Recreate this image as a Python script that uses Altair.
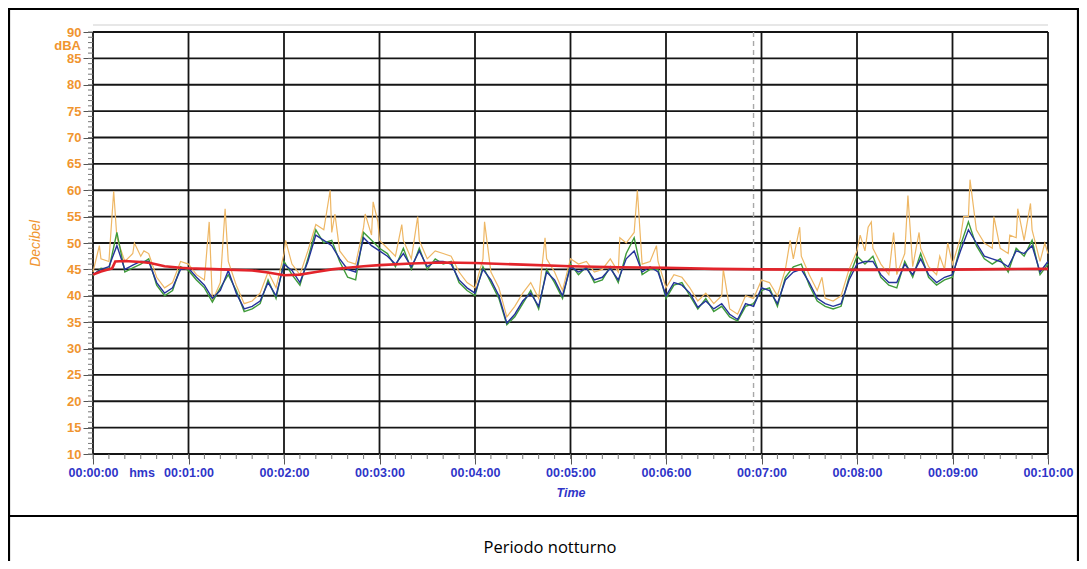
import altair as alt
import pandas as pd

# ---------------- data ----------------
times = list(range(0, 601, 5))  # seconds

blue = [
    44.0, 45.0, 45.5, 49.5, 45.0, 45.8, 46.5, 46.5, 42.5, 40.5,
    41.5, 45.0, 45.2, 43.5, 42.0, 39.5, 41.0, 44.8, 40.5, 37.5,
    38.0, 39.0, 42.5, 40.0, 46.0, 44.8, 42.5, 46.5, 51.5, 50.5,
    49.5, 47.0, 45.0, 44.5, 51.0, 49.5, 48.5, 47.5, 46.0, 48.0,
    45.5, 48.5, 45.5, 46.5, 46.5, 46.0, 43.0, 41.5, 40.5, 45.0,
    43.0, 40.0, 34.8, 36.5, 39.0, 40.5, 38.0, 44.5, 43.0, 40.0,
    45.5, 44.5, 45.2, 43.0, 43.5, 45.2, 43.0, 47.0, 48.5, 44.5,
    45.5, 44.5, 40.0, 42.5, 42.0, 40.5, 37.8, 39.0, 37.5, 38.5,
    36.5, 35.5, 38.5, 38.0, 41.5, 41.0, 38.5, 43.0, 44.5, 45.0,
    42.5, 39.5, 38.5, 38.0, 38.5, 43.0, 46.0, 46.5, 46.5, 44.0,
    42.5, 42.5, 46.0, 44.0, 47.0, 44.0, 42.5, 43.5, 44.0, 48.5,
    52.5, 50.0, 47.5, 47.0, 46.5, 45.5, 48.5, 48.0, 49.5, 44.5,
    46.5,
]

green = [
    43.8, 45.2, 45.0, 52.0, 44.5, 45.3, 46.0, 47.0, 42.0, 40.0,
    41.0, 45.5, 44.8, 43.0, 41.5, 38.8, 41.5, 44.0, 41.0, 37.0,
    37.5, 38.5, 43.0, 39.5, 46.5, 44.0, 42.0, 47.0, 52.5, 50.0,
    50.5, 46.5, 43.5, 43.0, 52.0, 50.5, 49.0, 48.0, 45.5, 49.0,
    45.0, 49.0, 45.0, 47.0, 46.0, 46.5, 42.5, 41.0, 40.0, 45.5,
    42.5, 39.5, 34.5, 36.0, 38.5, 41.0, 37.5, 45.0, 42.5, 39.5,
    46.0, 44.0, 45.5, 42.5, 43.0, 45.5, 42.5, 48.0, 51.0, 44.0,
    45.0, 45.0, 39.5, 42.0, 42.5, 40.0, 37.5, 39.5, 37.0, 38.0,
    36.0, 35.2, 38.0, 38.5, 41.0, 41.5, 38.0, 43.5, 45.5, 46.0,
    42.0, 39.0, 38.0, 37.5, 38.0, 43.5, 47.5, 46.0, 47.5, 43.5,
    42.0, 41.5, 46.5, 43.5, 48.0, 43.5, 42.0, 43.0, 43.5, 49.5,
    54.0, 49.5, 47.0, 46.0, 47.0, 44.5, 49.0, 47.5, 50.5, 44.0,
    46.0,
]

orange = [
    44.5, 47.0, 46.5, 51.0, 46.5, 48.0, 47.5, 48.0, 43.5, 41.5,
    42.5, 46.5, 46.0, 44.0, 43.0, 39.0, 42.5, 46.5, 42.0, 38.5,
    39.0, 40.5, 44.5, 41.5, 48.0, 46.0, 44.0, 48.5, 53.5, 52.5,
    52.0, 48.5, 46.5, 46.0, 53.0, 51.5, 50.5, 49.0, 47.5, 50.5,
    47.0, 50.5, 47.0, 48.5, 48.0, 47.5, 44.5, 42.5, 41.5, 47.0,
    44.5, 41.5, 36.0, 38.0, 40.5, 42.5, 39.5, 47.0, 44.5, 41.0,
    47.0, 46.0, 46.5, 44.5, 45.0, 47.0, 44.5, 50.0, 52.0, 46.0,
    46.5, 46.5, 41.5, 44.0, 43.5, 41.5, 39.0, 40.5, 38.5, 40.0,
    37.5, 36.5, 40.0, 39.5, 43.0, 42.5, 40.0, 45.0, 47.0, 47.5,
    44.0, 41.0, 39.5, 39.0, 40.0, 45.0, 48.5, 48.5, 49.0, 46.0,
    44.0, 44.0, 48.0, 45.5, 49.0, 45.5, 44.0, 45.0, 46.0, 51.0,
    55.0, 52.5, 50.0, 49.0, 49.0, 48.0, 51.0, 50.5, 52.5, 46.5,
    48.0,
]

orange_peak_t = [4, 13, 26, 32, 73, 83, 121, 149, 152, 171, 176, 179, 194,
                 204, 246, 284, 331, 342, 354, 396, 438, 444, 458, 482, 487,
                 489, 503, 512, 519, 532, 537, 547, 551, 566, 576, 581, 589, 598]
orange_peak_v = [49.5, 59.8, 50.0, 48.5, 54.0, 56.5, 50.5, 60.0, 55.5, 55.5,
                 57.8, 54.0, 53.5, 55.0, 54.0, 51.0, 51.0, 60.0, 49.5, 45.0,
                 50.5, 53.0, 43.5, 51.5, 53.0, 54.0, 52.0, 59.0, 52.0, 47.5,
                 50.0, 55.0, 62.0, 55.0, 51.5, 56.5, 57.5, 50.0]

red_t = [0, 5, 10, 12, 14, 20, 30, 36, 45, 55, 60, 80, 100, 110, 120, 130,
         140, 150, 160, 170, 180, 200, 220, 240, 270, 300, 330, 360, 390,
         420, 450, 480, 510, 540, 570, 600]
red_v = [44.0, 44.6, 45.0, 45.2, 46.5, 46.6, 46.4, 46.2, 45.6, 45.3, 45.2,
         45.0, 44.8, 44.4, 43.9, 44.0, 44.5, 45.0, 45.3, 45.6, 45.8, 46.1,
         46.3, 46.2, 45.9, 45.6, 45.4, 45.3, 45.1, 45.0, 44.95, 44.9, 44.9,
         44.95, 45.05, 45.1]

y_ticks = list(range(10, 91, 5))
y_minor = list(range(10, 91))
x_ticks = list(range(0, 601, 60))
x_minor = list(range(0, 601, 10))
x_labels = ["00:00:00", "00:01:00", "00:02:00", "00:03:00", "00:04:00",
            "00:05:00", "00:06:00", "00:07:00", "00:08:00", "00:09:00",
            "00:10:00"]
marker_t = [415]

# ---------------- styling ----------------
W, H = 955, 422
ORANGE_TXT = "#F0952F"
BLUE_TXT = "#2F35C8"
GRID = "#151515"

xs = alt.Scale(domain=[0, 600], nice=False, zero=False)
ys = alt.Scale(domain=[10, 90], nice=False, zero=False)

label_expr = "[" + ",".join("'%s'" % s for s in x_labels) + "][round(datum.value/60)]"

x_axis = alt.Axis(values=x_ticks, labelExpr=label_expr, grid=False, domain=False,
                  tickSize=10, tickColor="#555", tickWidth=1, labelPadding=2,
                  labelColor=BLUE_TXT, labelFont="Liberation Sans", labelFontSize=12.5,
                  labelFontWeight="bold", title="Time", titleColor=BLUE_TXT,
                  titleFont="Liberation Sans", titleFontSize=12.5, titleFontWeight="bold",
                  titleFontStyle="italic", titleX=W / 2, titleY=38,
                  titleBaseline="middle", titleAlign="center", labelFlush=False)

y_axis = alt.Axis(values=y_ticks, grid=False, domain=False, tickSize=10,
                  tickColor="#555", tickWidth=1, labelPadding=2,
                  labelColor=ORANGE_TXT, labelFont="Liberation Sans", labelFontSize=13,
                  labelFontWeight="bold", title="Decibel", titleColor=ORANGE_TXT,
                  titleFont="Liberation Sans", titleFontSize=14, titleFontWeight="normal",
                  titleFontStyle="italic", titleAngle=270, titleX=-58, titleY=211,
                  titleAlign="center", titleBaseline="middle", labelFlush=False)


def X(field):
    return alt.X(field, scale=xs, axis=x_axis)


def Y(field):
    return alt.Y(field, scale=ys, axis=y_axis)


# ---------------- frames ----------------
df_main = pd.DataFrame({"t": times, "blue": blue, "green": green})
df_orange = pd.DataFrame({"t": times + orange_peak_t, "v": orange + orange_peak_v}).sort_values("t")
df_red = pd.DataFrame({"t": red_t, "v": red_v})
one = pd.DataFrame({"a": [0]})

hgrid = alt.Chart(pd.DataFrame({"y": y_ticks})).mark_rule(color=GRID, strokeWidth=1.8).encode(
    y=Y("y:Q"))
vgrid = alt.Chart(pd.DataFrame({"t": x_ticks})).mark_rule(color=GRID, strokeWidth=1.8).encode(
    x=X("t:Q"))
yminor = alt.Chart(pd.DataFrame({"y": y_minor})).mark_rule(color="#777", strokeWidth=1).encode(
    y=Y("y:Q"), x=alt.value(-5), x2=alt.value(0))
xminor = alt.Chart(pd.DataFrame({"t": x_minor})).mark_rule(color="#777", strokeWidth=1).encode(
    x=X("t:Q"), y=alt.value(H), y2=alt.value(H + 5))
marker = alt.Chart(pd.DataFrame({"t": marker_t})).mark_rule(
    color="#a8a8a8", strokeWidth=1.4, strokeDash=[5, 4]).encode(x=X("t:Q"))

l_orange = alt.Chart(df_orange).mark_line(color="#EEB765", strokeWidth=1.2).encode(
    x=X("t:Q"), y=Y("v:Q"))
l_green = alt.Chart(df_main).mark_line(color="#3F9B3A", strokeWidth=1.4).encode(
    x=X("t:Q"), y=Y("green:Q"))
l_blue = alt.Chart(df_main).mark_line(color="#24339A", strokeWidth=1.4).encode(
    x=X("t:Q"), y=Y("blue:Q"))
l_red = alt.Chart(df_red).mark_line(color="#E3242B", strokeWidth=2.6).encode(
    x=X("t:Q"), y=Y("v:Q"))

# ---------------- decorations (table cell frame, caption, unit) ----------------
base = alt.Chart(one)
topline = base.mark_rule(color="#cfcfcf", strokeWidth=1).encode(
    x=alt.value(0), x2=alt.value(W), y=alt.value(-7))
b_left = base.mark_rule(color="black", strokeWidth=2.2).encode(
    x=alt.value(-84), y=alt.value(-23), y2=alt.value(530))
b_right = base.mark_rule(color="black", strokeWidth=2.2).encode(
    x=alt.value(985), y=alt.value(-23), y2=alt.value(530))
b_top = base.mark_rule(color="black", strokeWidth=2.2).encode(
    x=alt.value(-85), x2=alt.value(986), y=alt.value(-23))
b_mid = base.mark_rule(color="black", strokeWidth=2.2).encode(
    x=alt.value(-85), x2=alt.value(986), y=alt.value(484))
dba = base.mark_text(text="dBA", color=ORANGE_TXT, font="Liberation Sans", fontSize=13,
                     fontWeight="bold", align="right", baseline="alphabetic").encode(
    x=alt.value(-12), y=alt.value(17.5))
hms = base.mark_text(text="hms", color=BLUE_TXT, font="Liberation Sans", fontSize=12.5,
                     fontWeight="bold", align="center", baseline="alphabetic").encode(
    x=alt.value(49), y=alt.value(445))
caption = base.mark_text(text="Periodo notturno", color="black", font="Open Sans", fontSize=16.5,
                         align="center", baseline="alphabetic").encode(
    x=alt.value(457), y=alt.value(521))

chart = alt.layer(
    hgrid, vgrid, yminor, xminor, marker,
    l_orange, l_green, l_blue, l_red,
    topline, b_left, b_right, b_top, b_mid, dba, hms, caption,
).properties(
    width=W, height=H,
    padding={"left": 85, "top": 24, "right": 31, "bottom": 107},
    autosize=alt.AutoSizeParams(type="none"),
    background="white",
).configure_view(stroke=None)

chart.save("out.html", embed_options={"renderer": "svg", "actions": False})
